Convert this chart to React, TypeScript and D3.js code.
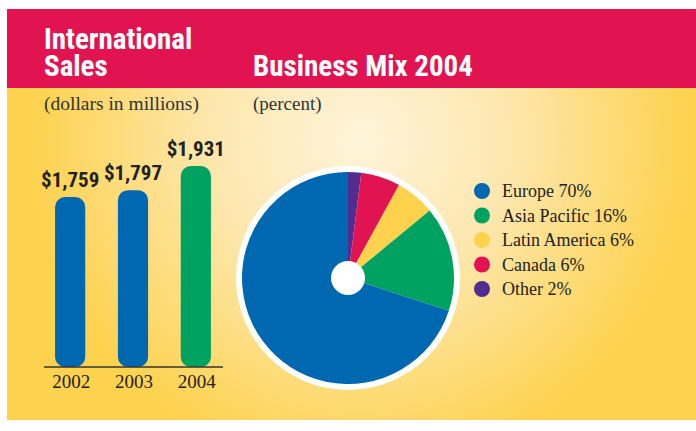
import React from "react";
import * as d3 from "d3";

const years = ["2002", "2003", "2004"];
const sales = [1759, 1797, 1931];
const salesLabels = ["$1,759", "$1,797", "$1,931"];
const barColors = ["#0067B1", "#0067B1", "#00A261"];

const regions = ["Other", "Canada", "Latin America", "Asia Pacific", "Europe"];
const shares = [2, 6, 6, 16, 70];
const regionColors = ["#522D91", "#E11350", "#FFD24E", "#00A261", "#0067B1"];

const legendNames = ["Europe 70%", "Asia Pacific 16%", "Latin America 6%", "Canada 6%", "Other 2%"];
const legendColors = ["#0067B1", "#00A261", "#FFD24E", "#E11350", "#522D91"];

const W = 696;
const H = 431;

export default function App() {
  const x = d3.scaleBand().domain(years).range([40, 226]).paddingInner(0.52).paddingOuter(0.24);
  const y = d3.scaleLinear().domain([815, 1931]).range([367, 166]);

  const pie = d3.pie<number>().sort(null).value((d) => d)(shares);
  const arc = d3.arc<d3.PieArcDatum<number>>().innerRadius(0).outerRadius(106);
  const cx = 348, cy = 278;

  const legendY = d3.scalePoint().domain(legendNames).range([191, 289]);

  const cond = "'Liberation Sans Narrow', 'Arial Narrow', 'Roboto Condensed', sans-serif";
  const serif = "'Liberation Serif', 'DejaVu Serif', serif";

  return (
    <svg width={W} height={H} style={{ position: "absolute", left: 0, top: 0, display: "block" }}>
      <defs>
        <radialGradient id="bg" gradientUnits="userSpaceOnUse" cx={360} cy={140} r={330}>
          <stop offset="0" stopColor="#FEF4DA" />
          <stop offset="0.45" stopColor="#FDE7AE" />
          <stop offset="1" stopColor="#FDD24E" />
        </radialGradient>
      </defs>
      <rect x={0} y={0} width={W} height={H} fill="#fff" />
      <rect x={7} y={9} width={W - 7} height={411} fill="url(#bg)" />
      <rect x={7} y={9} width={W - 7} height={79} fill="#E11350" />

      <text x={44} y={49} fill="#fff" fontFamily={cond} fontWeight="bold" fontSize={29}>International</text>
      <text x={44} y={76} fill="#fff" fontFamily={cond} fontWeight="bold" fontSize={29}>Sales</text>
      <text x={253} y={76} fill="#fff" fontFamily={cond} fontWeight="bold" fontSize={29}>Business Mix 2004</text>

      <text x={44} y={110} fill="#333" fontFamily={serif} fontSize={19.5}>(dollars in millions)</text>
      <text x={253} y={110} fill="#333" fontFamily={serif} fontSize={19}>(percent)</text>

      {years.map((yr, i) => {
        const bx = x(yr)!;
        const bw = x.bandwidth();
        const top = y(sales[i]);
        return (
          <g key={yr}>
            <rect x={bx} y={top} width={bw} height={y.range()[0] - top} rx={10} ry={10} fill={barColors[i]} />
            <text x={bx + bw / 2} y={top - 10} textAnchor="middle" fill="#222" fontFamily={cond} fontWeight="bold" fontSize={21}>{salesLabels[i]}</text>
            <text x={bx + bw / 2 + 1} y={388} textAnchor="middle" fill="#222" fontFamily={serif} fontSize={19}>{yr}</text>
          </g>
        );
      })}
      <line x1={44} x2={223} y1={367} y2={367} stroke="#333" strokeWidth={1.5} />

      <circle cx={cx} cy={cy} r={112} fill="#fff" />
      <g transform={`translate(${cx},${cy})`}>
        {pie.map((p, i) => (
          <path key={regions[i]} d={arc(p)!} fill={regionColors[i]} />
        ))}
        <circle r={17} fill="#fff" />
      </g>

      {legendNames.map((n, i) => (
        <g key={n}>
          <circle cx={482} cy={legendY(n)!} r={8} fill={legendColors[i]} />
          <text x={502} y={legendY(n)! + 6} fill="#222" fontFamily={serif} fontSize={18}>{n}</text>
        </g>
      ))}
    </svg>
  );
}
